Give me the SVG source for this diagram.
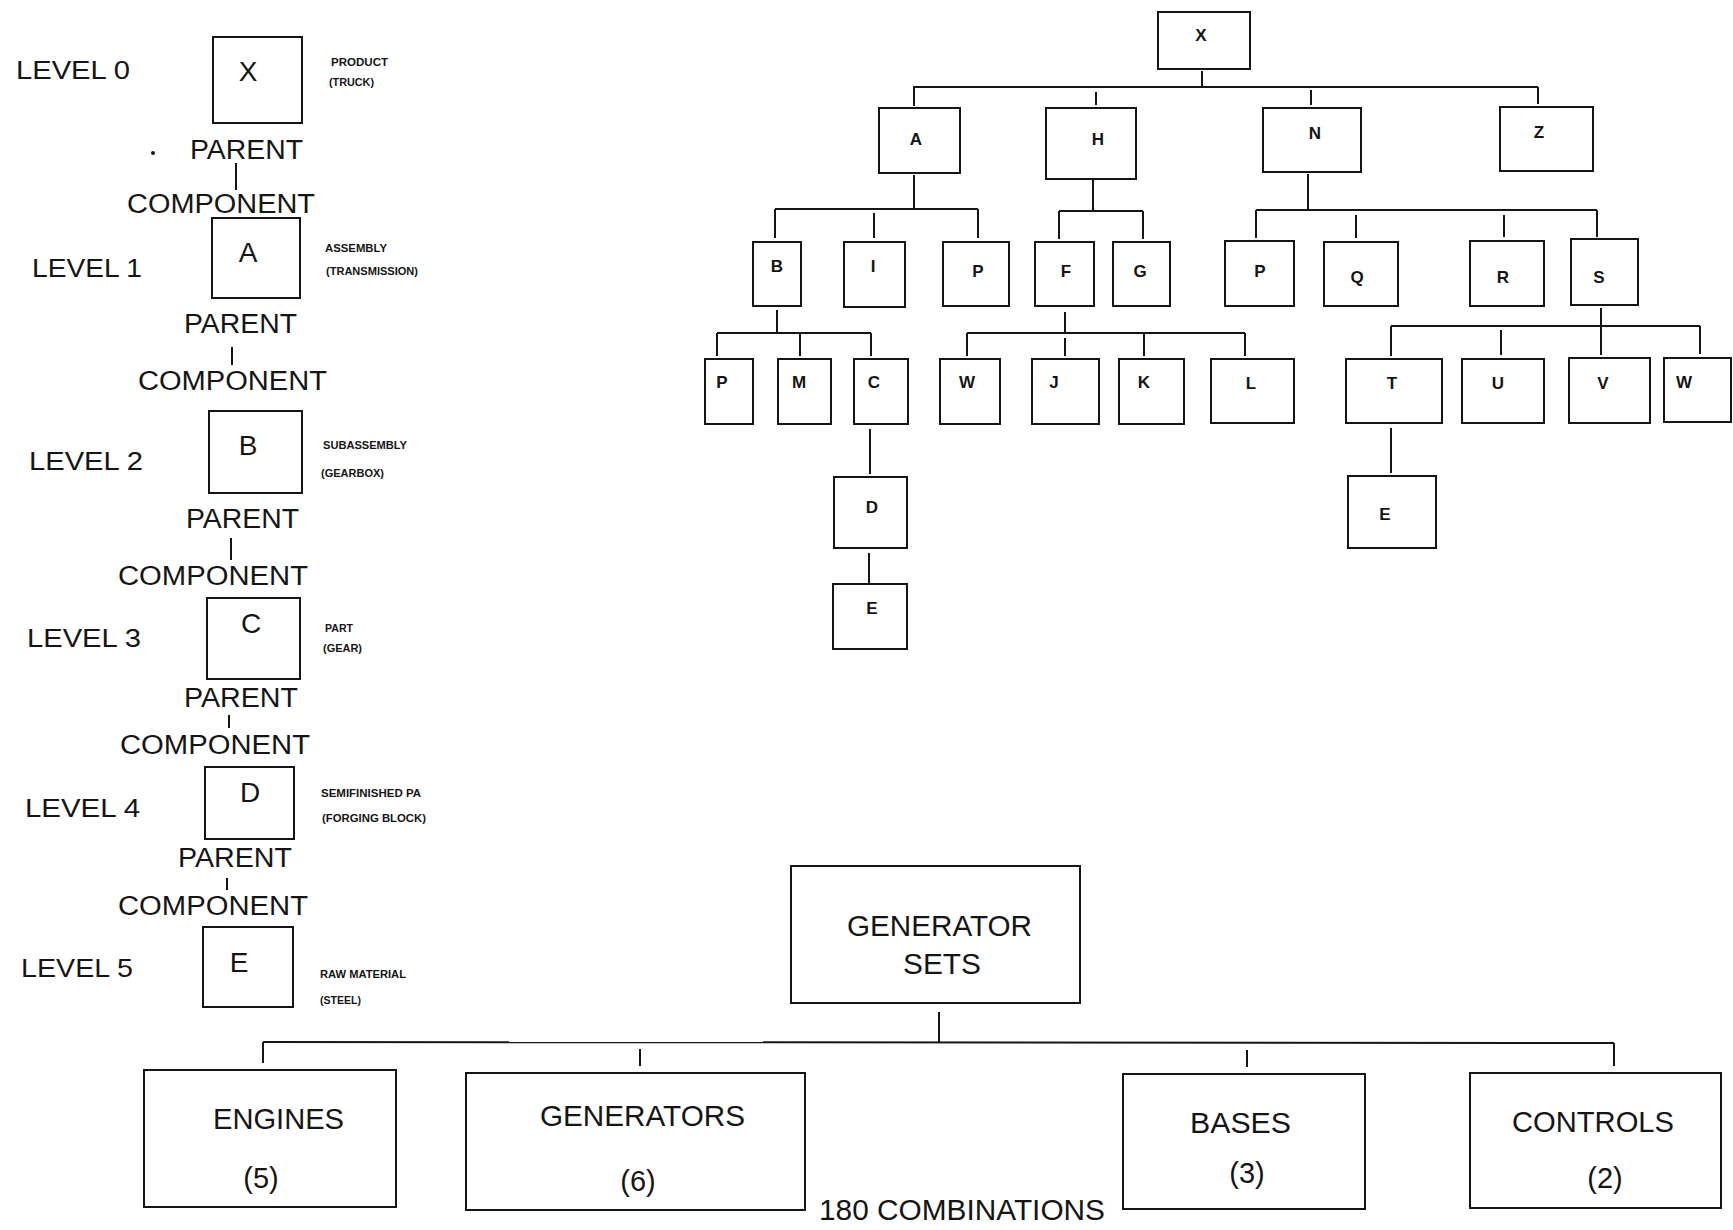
<svg xmlns="http://www.w3.org/2000/svg" width="1733" height="1230" viewBox="0 0 1733 1230">
<style>
  .bx { fill: #fff; stroke: #151515; stroke-width: 2; }
  .ln { stroke: #151515; stroke-width: 2; fill: none; }
  .t  { font-family: "Liberation Sans", Arial, sans-serif; fill: #151515; }
  .lvl { font-size: 25px; }
  .pc  { font-size: 27px; }
  .big { font-size: 28px; text-anchor: middle; }
  .cap { font-size: 11px; font-weight: bold; }
  .nd  { font-size: 17px; font-weight: bold; text-anchor: middle; }
  .gs  { font-size: 29px; }
</style>
<rect width="1733" height="1230" fill="#fff"/>

<!-- ===== Product structure levels (left column) ===== -->
<g id="levels">
  <text class="t lvl" x="16" y="79" textLength="114" lengthAdjust="spacingAndGlyphs">LEVEL 0</text>
  <text class="t lvl" x="32" y="277" textLength="110" lengthAdjust="spacingAndGlyphs">LEVEL 1</text>
  <text class="t lvl" x="29" y="470" textLength="114" lengthAdjust="spacingAndGlyphs">LEVEL 2</text>
  <text class="t lvl" x="27" y="647" textLength="114" lengthAdjust="spacingAndGlyphs">LEVEL 3</text>
  <text class="t lvl" x="25" y="817" textLength="115" lengthAdjust="spacingAndGlyphs">LEVEL 4</text>
  <text class="t lvl" x="21" y="977" textLength="112" lengthAdjust="spacingAndGlyphs">LEVEL 5</text>
</g>

<g id="lvl-x">
  <rect class="bx" x="213" y="37" width="89" height="86"/>
  <text class="t big" x="248" y="81">X</text>
  <text class="t cap" x="331" y="66" textLength="57" lengthAdjust="spacingAndGlyphs">PRODUCT</text>
  <text class="t cap" x="329" y="86" textLength="45" lengthAdjust="spacingAndGlyphs">(TRUCK)</text>
</g>
<g id="lvl-a">
  <rect class="bx" x="212" y="218" width="88" height="80"/>
  <text class="t big" x="248" y="262">A</text>
  <text class="t cap" x="325" y="252" textLength="62" lengthAdjust="spacingAndGlyphs">ASSEMBLY</text>
  <text class="t cap" x="326" y="275" textLength="92" lengthAdjust="spacingAndGlyphs">(TRANSMISSION)</text>
</g>
<g id="lvl-b">
  <rect class="bx" x="209" y="411" width="93" height="82"/>
  <text class="t big" x="248" y="455">B</text>
  <text class="t cap" x="323" y="449" textLength="84" lengthAdjust="spacingAndGlyphs">SUBASSEMBLY</text>
  <text class="t cap" x="321" y="477" textLength="63" lengthAdjust="spacingAndGlyphs">(GEARBOX)</text>
</g>
<g id="lvl-c">
  <rect class="bx" x="207" y="598" width="93" height="81"/>
  <text class="t big" x="251" y="633">C</text>
  <text class="t cap" x="325" y="632" textLength="28" lengthAdjust="spacingAndGlyphs">PART</text>
  <text class="t cap" x="323" y="652" textLength="39" lengthAdjust="spacingAndGlyphs">(GEAR)</text>
</g>
<g id="lvl-d">
  <rect class="bx" x="205" y="767" width="89" height="72"/>
  <text class="t big" x="250" y="802">D</text>
  <text class="t cap" x="321" y="797" textLength="100" lengthAdjust="spacingAndGlyphs">SEMIFINISHED PA</text>
  <text class="t cap" x="322" y="822" textLength="104" lengthAdjust="spacingAndGlyphs">(FORGING BLOCK)</text>
</g>
<g id="lvl-e">
  <rect class="bx" x="203" y="927" width="90" height="80"/>
  <text class="t big" x="239" y="972">E</text>
  <text class="t cap" x="320" y="978" textLength="86" lengthAdjust="spacingAndGlyphs">RAW MATERIAL</text>
  <text class="t cap" x="320" y="1004" textLength="41" lengthAdjust="spacingAndGlyphs">(STEEL)</text>
</g>

<!-- parent / component links between levels -->
<g id="parent-component">
  <circle cx="153" cy="153" r="2" fill="#151515"/>
  <text class="t pc" x="190" y="159" textLength="113" lengthAdjust="spacingAndGlyphs">PARENT</text>
  <line class="ln" x1="236" y1="163" x2="236" y2="190"/>
  <text class="t pc" x="127" y="213" textLength="188" lengthAdjust="spacingAndGlyphs">COMPONENT</text>

  <text class="t pc" x="184" y="333" textLength="113" lengthAdjust="spacingAndGlyphs">PARENT</text>
  <line class="ln" x1="232" y1="347" x2="232" y2="365"/>
  <text class="t pc" x="138" y="390" textLength="189" lengthAdjust="spacingAndGlyphs">COMPONENT</text>

  <text class="t pc" x="186" y="528" textLength="113" lengthAdjust="spacingAndGlyphs">PARENT</text>
  <line class="ln" x1="231" y1="538" x2="231" y2="560"/>
  <text class="t pc" x="118" y="585" textLength="190" lengthAdjust="spacingAndGlyphs">COMPONENT</text>

  <text class="t pc" x="184" y="707" textLength="114" lengthAdjust="spacingAndGlyphs">PARENT</text>
  <line class="ln" x1="229" y1="715" x2="229" y2="728"/>
  <text class="t pc" x="120" y="754" textLength="190" lengthAdjust="spacingAndGlyphs">COMPONENT</text>

  <text class="t pc" x="178" y="867" textLength="114" lengthAdjust="spacingAndGlyphs">PARENT</text>
  <line class="ln" x1="227" y1="878" x2="227" y2="890"/>
  <text class="t pc" x="118" y="915" textLength="190" lengthAdjust="spacingAndGlyphs">COMPONENT</text>
</g>

<!-- ===== Product tree (upper right) ===== -->
<g id="tree-connectors">
  <!-- level 0 to 1 -->
  <line class="ln" x1="1202" y1="71" x2="1202" y2="87"/>
  <line class="ln" x1="913" y1="87" x2="1538" y2="87"/>
  <line class="ln" x1="914" y1="87" x2="914" y2="106"/>
  <line class="ln" x1="1096" y1="92" x2="1096" y2="105"/>
  <line class="ln" x1="1311" y1="90" x2="1311" y2="105"/>
  <line class="ln" x1="1538" y1="87" x2="1538" y2="104"/>
  <!-- under A -->
  <line class="ln" x1="914" y1="175" x2="914" y2="209"/>
  <line class="ln" x1="775" y1="209" x2="978" y2="209"/>
  <line class="ln" x1="775" y1="209" x2="775" y2="238"/>
  <line class="ln" x1="874" y1="213" x2="874" y2="238"/>
  <line class="ln" x1="978" y1="209" x2="978" y2="238"/>
  <!-- under H -->
  <line class="ln" x1="1093" y1="180" x2="1093" y2="211"/>
  <line class="ln" x1="1059" y1="211" x2="1143" y2="211"/>
  <line class="ln" x1="1059" y1="211" x2="1059" y2="239"/>
  <line class="ln" x1="1143" y1="211" x2="1143" y2="239"/>
  <!-- under N -->
  <line class="ln" x1="1308" y1="174" x2="1308" y2="210"/>
  <line class="ln" x1="1256" y1="210" x2="1597" y2="210"/>
  <line class="ln" x1="1256" y1="210" x2="1256" y2="238"/>
  <line class="ln" x1="1356" y1="215" x2="1356" y2="238"/>
  <line class="ln" x1="1504" y1="215" x2="1504" y2="237"/>
  <line class="ln" x1="1597" y1="210" x2="1597" y2="237"/>
  <!-- under B -->
  <line class="ln" x1="777" y1="310" x2="777" y2="333"/>
  <line class="ln" x1="717" y1="333" x2="871" y2="333"/>
  <line class="ln" x1="717" y1="333" x2="717" y2="356"/>
  <line class="ln" x1="800" y1="333" x2="800" y2="356"/>
  <line class="ln" x1="871" y1="333" x2="871" y2="356"/>
  <!-- under F -->
  <line class="ln" x1="1065" y1="312" x2="1065" y2="333"/>
  <line class="ln" x1="967" y1="333" x2="1245" y2="333"/>
  <line class="ln" x1="967" y1="333" x2="967" y2="356"/>
  <line class="ln" x1="1065" y1="338" x2="1065" y2="356"/>
  <line class="ln" x1="1144" y1="333" x2="1144" y2="356"/>
  <line class="ln" x1="1245" y1="333" x2="1245" y2="356"/>
  <!-- under S -->
  <line class="ln" x1="1601" y1="308" x2="1601" y2="326"/>
  <line class="ln" x1="1391" y1="326" x2="1700" y2="326"/>
  <line class="ln" x1="1391" y1="326" x2="1391" y2="356"/>
  <line class="ln" x1="1501" y1="330" x2="1501" y2="355"/>
  <line class="ln" x1="1601" y1="326" x2="1601" y2="355"/>
  <line class="ln" x1="1700" y1="326" x2="1700" y2="354"/>
  <!-- lower chains -->
  <line class="ln" x1="870" y1="429" x2="870" y2="474"/>
  <line class="ln" x1="869" y1="553" x2="869" y2="583"/>
  <line class="ln" x1="1391" y1="428" x2="1391" y2="473"/>
</g>

<g id="t-x"><rect class="bx" x="1158" y="12" width="92" height="57"/><text class="t nd" x="1201" y="41">X</text></g>
<g id="t-a"><rect class="bx" x="879" y="108" width="81" height="65"/><text class="t nd" x="916" y="145">A</text></g>
<g id="t-h"><rect class="bx" x="1046" y="108" width="90" height="71"/><text class="t nd" x="1098" y="145">H</text></g>
<g id="t-n"><rect class="bx" x="1263" y="108" width="98" height="64"/><text class="t nd" x="1315" y="139">N</text></g>
<g id="t-z"><rect class="bx" x="1500" y="107" width="93" height="64"/><text class="t nd" x="1539" y="138">Z</text></g>

<g id="t-b"><rect class="bx" x="753" y="242" width="48" height="64"/><text class="t nd" x="777" y="272">B</text></g>
<g id="t-i"><rect class="bx" x="844" y="242" width="61" height="65"/><text class="t nd" x="873" y="272">I</text></g>
<g id="t-p1"><rect class="bx" x="943" y="242" width="66" height="64"/><text class="t nd" x="978" y="277">P</text></g>
<g id="t-f"><rect class="bx" x="1035" y="242" width="59" height="64"/><text class="t nd" x="1066" y="277">F</text></g>
<g id="t-g"><rect class="bx" x="1113" y="242" width="57" height="64"/><text class="t nd" x="1140" y="277">G</text></g>
<g id="t-p2"><rect class="bx" x="1225" y="241" width="69" height="65"/><text class="t nd" x="1260" y="277">P</text></g>
<g id="t-q"><rect class="bx" x="1324" y="242" width="74" height="64"/><text class="t nd" x="1357" y="283">Q</text></g>
<g id="t-r"><rect class="bx" x="1470" y="241" width="74" height="65"/><text class="t nd" x="1503" y="283">R</text></g>
<g id="t-s"><rect class="bx" x="1571" y="239" width="67" height="66"/><text class="t nd" x="1599" y="283">S</text></g>

<g id="t-p3"><rect class="bx" x="705" y="359" width="48" height="65"/><text class="t nd" x="722" y="388">P</text></g>
<g id="t-m"><rect class="bx" x="778" y="359" width="53" height="65"/><text class="t nd" x="799" y="388">M</text></g>
<g id="t-c"><rect class="bx" x="854" y="359" width="54" height="65"/><text class="t nd" x="874" y="388">C</text></g>
<g id="t-w1"><rect class="bx" x="940" y="359" width="60" height="65"/><text class="t nd" x="967" y="388">W</text></g>
<g id="t-j"><rect class="bx" x="1032" y="359" width="67" height="65"/><text class="t nd" x="1054" y="388">J</text></g>
<g id="t-k"><rect class="bx" x="1119" y="359" width="65" height="65"/><text class="t nd" x="1144" y="388">K</text></g>
<g id="t-l"><rect class="bx" x="1211" y="359" width="83" height="64"/><text class="t nd" x="1251" y="389">L</text></g>
<g id="t-t"><rect class="bx" x="1346" y="359" width="96" height="64"/><text class="t nd" x="1392" y="389">T</text></g>
<g id="t-u"><rect class="bx" x="1462" y="359" width="82" height="64"/><text class="t nd" x="1498" y="389">U</text></g>
<g id="t-v"><rect class="bx" x="1569" y="358" width="81" height="65"/><text class="t nd" x="1603" y="389">V</text></g>
<g id="t-w2"><rect class="bx" x="1664" y="358" width="67" height="64"/><text class="t nd" x="1684" y="388">W</text></g>

<g id="t-d"><rect class="bx" x="834" y="477" width="73" height="71"/><text class="t nd" x="872" y="513">D</text></g>
<g id="t-e1"><rect class="bx" x="833" y="584" width="74" height="65"/><text class="t nd" x="872" y="614">E</text></g>
<g id="t-e2"><rect class="bx" x="1348" y="476" width="88" height="72"/><text class="t nd" x="1385" y="520">E</text></g>

<!-- ===== Generator set options (bottom) ===== -->
<g id="gen-connectors">
  <line class="ln" x1="939" y1="1012" x2="939" y2="1043"/>
  <line class="ln" x1="263" y1="1042" x2="1614" y2="1043"/>
  <line class="ln" x1="263" y1="1042" x2="263" y2="1063"/>
  <line class="ln" x1="640" y1="1049" x2="640" y2="1066"/>
  <line class="ln" x1="1247" y1="1050" x2="1247" y2="1067"/>
  <line class="ln" x1="1614" y1="1043" x2="1614" y2="1066"/>
</g>

<g id="g-sets">
  <rect class="bx" x="791" y="866" width="289" height="137"/>
  <text class="t gs" x="847" y="936" textLength="185" lengthAdjust="spacingAndGlyphs">GENERATOR</text>
  <text class="t gs" x="903" y="974" textLength="78" lengthAdjust="spacingAndGlyphs">SETS</text>
</g>
<g id="g-engines">
  <rect class="bx" x="144" y="1070" width="252" height="137"/>
  <text class="t gs" x="213" y="1129" textLength="131" lengthAdjust="spacingAndGlyphs">ENGINES</text>
  <text class="t gs" x="261" y="1188" text-anchor="middle">(5)</text>
</g>
<g id="g-generators">
  <rect class="bx" x="466" y="1073" width="339" height="137"/>
  <text class="t gs" x="540" y="1126" textLength="205" lengthAdjust="spacingAndGlyphs">GENERATORS</text>
  <text class="t gs" x="638" y="1191" text-anchor="middle">(6)</text>
</g>
<g id="g-bases">
  <rect class="bx" x="1123" y="1074" width="242" height="135"/>
  <text class="t gs" x="1190" y="1133" textLength="101" lengthAdjust="spacingAndGlyphs">BASES</text>
  <text class="t gs" x="1247" y="1183" text-anchor="middle">(3)</text>
</g>
<g id="g-controls">
  <rect class="bx" x="1470" y="1073" width="251" height="135"/>
  <text class="t gs" x="1512" y="1132" textLength="162" lengthAdjust="spacingAndGlyphs">CONTROLS</text>
  <text class="t gs" x="1605" y="1188" text-anchor="middle">(2)</text>
</g>
<text class="t gs" x="819" y="1220" textLength="286" lengthAdjust="spacingAndGlyphs">180 COMBINATIONS</text>
</svg>
